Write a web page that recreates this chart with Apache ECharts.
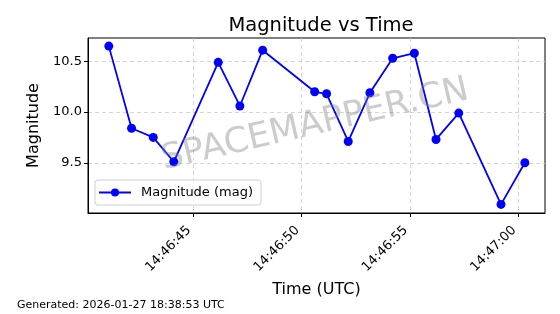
<!DOCTYPE html>
<html>
<head>
<meta charset="utf-8">
<script src="https://cdn.jsdelivr.net/npm/echarts@6/dist/echarts.min.js"></script>
<style>
html,body{margin:0;padding:0;background:#fff;}
#c{width:560px;height:314px;}
</style>
</head>
<body>
<div id="c"></div>
<script>
// Seconds after 14:46:00 UTC
var timeSeconds = [41.1, 42.15, 43.15, 44.1, 46.15, 47.15, 48.2, 50.6, 51.15, 52.15, 53.15, 54.2, 55.2, 56.2, 57.25, 59.2, 60.3];
var magnitudes = [10.65, 9.84, 9.75, 9.51, 10.49, 10.06, 10.61, 10.20, 10.18, 9.71, 10.19, 10.53, 10.58, 9.73, 9.99, 9.09, 9.50];
var xTickSeconds = [45, 50, 55, 60];
var xTickLabels = ['14:46:45', '14:46:50', '14:46:55', '14:47:00'];
var yTicks = [9.5, 10.0, 10.5];
var seriesName = 'Magnitude (mag)';
var titleText = 'Magnitude vs Time';
var footerText = 'Generated: 2026-01-27 18:38:53 UTC';
var watermarkText = 'SPACEMAPPER.CN';

var FONT = 'DejaVu Sans';
var chart = echarts.init(document.getElementById('c'), null, {renderer: 'canvas'});
var points = timeSeconds.map(function (t, i) { return [t, magnitudes[i]]; });

chart.setOption({
  animation: false,
  backgroundColor: '#fff',
  textStyle: {fontFamily: FONT},
  title: {
    text: titleText,
    left: 316, top: 11, textAlign: 'center',
    textStyle: {fontFamily: FONT, fontSize: 19.5, fontWeight: 'normal', color: '#000'}
  },
  grid: {
    left: 88, right: 15, top: 38, bottom: 101,
    show: true, borderColor: '#000', borderWidth: 1, backgroundColor: 'transparent'
  },
  legend: {
    left: 95, top: 180,
    padding: [6, 8, 6, 3],
    itemWidth: 32, itemHeight: 10, itemGap: 5,
    backgroundColor: 'rgba(255,255,255,0.8)',
    borderColor: '#d0d0d0', borderWidth: 1, borderRadius: 3,
    textStyle: {fontFamily: FONT, fontSize: 13, color: '#000', padding: [0, 0, 0, 5]},
    data: [seriesName]
  },
  xAxis: {
    type: 'value',
    min: 40.14, max: 61.23,
    name: 'Time (UTC)',
    nameLocation: 'middle', nameGap: 69,
    nameTextStyle: {fontFamily: FONT, fontSize: 16, color: '#000'},
    axisLine: {show: true, onZero: false, lineStyle: {color: '#000'}},
    axisTick: {show: true, length: 4, lineStyle: {color: '#000'}, customValues: xTickSeconds},
    axisLabel: {
      rotate: 45, fontFamily: FONT, fontSize: 13, color: '#000', margin: 11,
      padding: [0, 6, 0, 0],
      customValues: xTickSeconds,
      formatter: function (v) {
        var i = xTickSeconds.indexOf(Math.round(v));
        return i >= 0 ? xTickLabels[i] : '';
      }
    },
    splitLine: {show: true, lineStyle: {color: '#cccccc', type: [4, 3], width: 0.8}}
  },
  yAxis: {
    type: 'value',
    min: 9.005, max: 10.73,
    name: 'Magnitude',
    nameLocation: 'middle', nameGap: 44,
    nameTextStyle: {fontFamily: FONT, fontSize: 16, color: '#000'},
    axisLine: {show: true, lineStyle: {color: '#000'}},
    axisTick: {show: true, length: 4, lineStyle: {color: '#000'}, customValues: yTicks},
    axisLabel: {
      fontFamily: FONT, fontSize: 13, color: '#000', margin: 6,
      customValues: yTicks,
      formatter: function (v) { return v.toFixed(1); }
    },
    splitLine: {show: true, lineStyle: {color: '#cccccc', type: [4, 3], width: 0.8}}
  },
  graphic: [
    {
      type: 'text',
      left: 17, top: 300,
      style: {text: footerText, font: '11px "DejaVu Sans"', fill: '#000'}
    },
    {
      type: 'text',
      x: 315, y: 125,
      rotation: 13 * Math.PI / 180,
      z: 100,
      style: {
        text: watermarkText,
        font: '35px "DejaVu Sans"',
        fill: 'rgba(128,128,128,0.4)',
        align: 'center', verticalAlign: 'middle'
      }
    }
  ],
  series: [{
    name: seriesName,
    type: 'line',
    data: points,
    symbol: 'circle',
    symbolSize: 9,
    lineStyle: {color: '#0000ff', width: 1.8},
    itemStyle: {color: '#0000ff'},
    z: 3
  }]
});
</script>
</body>
</html>
